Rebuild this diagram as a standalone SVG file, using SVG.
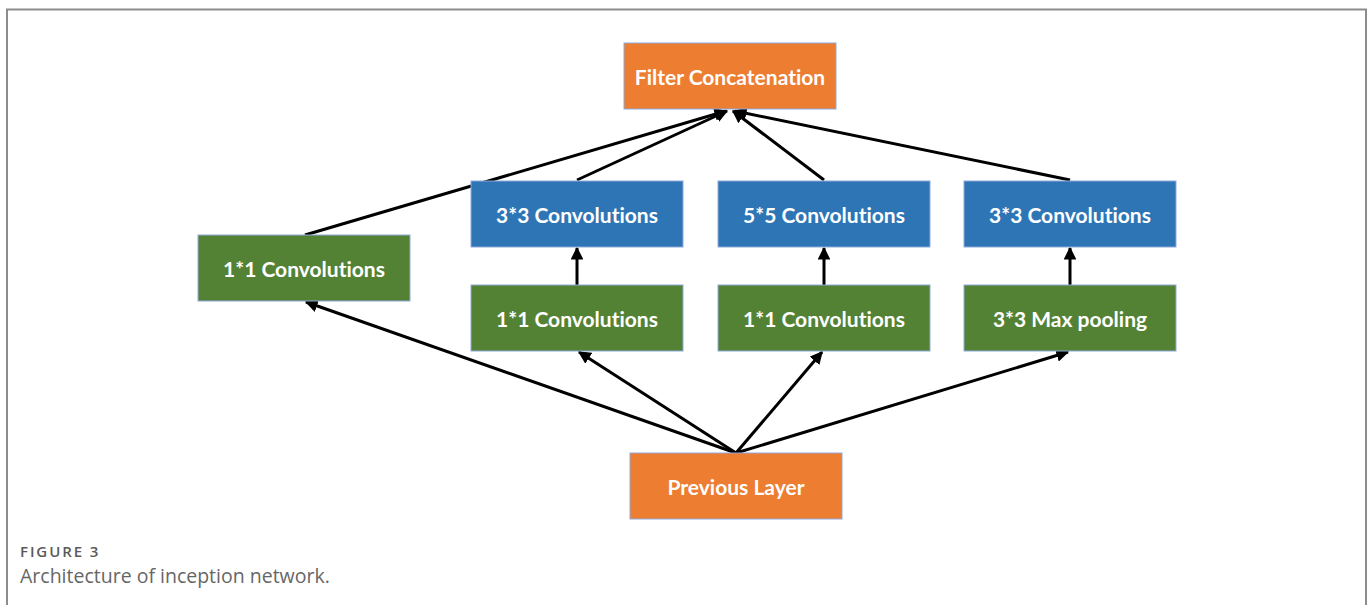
<svg xmlns="http://www.w3.org/2000/svg" width="1370" height="605" viewBox="0 0 1370 605">
<style>
.box{stroke:#8FAADC;stroke-width:1}
.or{fill:#ED7D31}
.gr{fill:#548235}
.bl{fill:#2E75B6}
.lbl{font-family:Lato,"Liberation Sans",sans-serif;font-weight:bold;font-size:21px;fill:#fff;text-anchor:middle;dominant-baseline:central;font-variant-ligatures:none}
.edge{stroke:#000;stroke-width:3;fill:none;marker-end:url(#ah)}
.frame{stroke:#8c8c8c;stroke-width:2;fill:none}
</style>
<defs>
<marker id="ah" viewBox="0 0 10 10" refX="9" refY="5" markerWidth="4.3" markerHeight="4.3" markerUnits="strokeWidth" orient="auto">
<path d="M0,0 L10,5 L0,10 z" fill="#000"/>
</marker>
</defs>
<rect width="1370" height="605" fill="#fff"/>
<path class="frame" d="M7,605 L7,9.5 L1366,9.5 L1366,605"/>
<g id="connectors">
<line class="edge" x1="736" y1="453" x2="306" y2="302"/>
<line class="edge" x1="736" y1="453" x2="579" y2="352"/>
<line class="edge" x1="736" y1="453" x2="822" y2="352"/>
<line class="edge" x1="736" y1="453" x2="1068" y2="352"/>
<line class="edge" x1="577" y1="285" x2="577" y2="248"/>
<line class="edge" x1="824" y1="285" x2="824" y2="248"/>
<line class="edge" x1="1070" y1="285" x2="1070" y2="248"/>
<line class="edge" x1="305" y1="235" x2="726" y2="111"/>
<line class="edge" x1="577" y1="180" x2="727" y2="111"/>
<line class="edge" x1="824" y1="180" x2="733" y2="111"/>
<line class="edge" x1="1070" y1="180" x2="735" y2="111"/>
</g>
<g id="filter-concat"><rect class="box or" x="624" y="43" width="212" height="66"/><text class="lbl" x="730" y="76">Filter Concatenation</text></g>
<g id="conv1x1-left"><rect class="box gr" x="198" y="235" width="212" height="66"/><text class="lbl" x="304" y="268">1*1 Convolutions</text></g>
<g id="conv3x3-a"><rect class="box bl" x="471" y="181" width="212" height="66"/><text class="lbl" x="577" y="214">3*3 Convolutions</text></g>
<g id="conv5x5"><rect class="box bl" x="718" y="181" width="212" height="66"/><text class="lbl" x="824" y="214">5*5 Convolutions</text></g>
<g id="conv3x3-b"><rect class="box bl" x="964" y="181" width="212" height="66"/><text class="lbl" x="1070" y="214">3*3 Convolutions</text></g>
<g id="conv1x1-a"><rect class="box gr" x="471" y="285" width="212" height="66"/><text class="lbl" x="577" y="318">1*1 Convolutions</text></g>
<g id="conv1x1-b"><rect class="box gr" x="718" y="285" width="212" height="66"/><text class="lbl" x="824" y="318">1*1 Convolutions</text></g>
<g id="maxpool"><rect class="box gr" x="964" y="285" width="212" height="66"/><text class="lbl" x="1070" y="318">3*3 Max pooling</text></g>
<g id="prev-layer"><rect class="box or" x="630" y="453" width="212" height="66"/><text class="lbl" x="736" y="486">Previous Layer</text></g>
<text x="20" y="557" font-family="'Open Sans',sans-serif" font-size="15" font-weight="600" fill="#5a5a5a" letter-spacing="1.9">FIGURE 3</text>
<text x="20" y="583" font-family="'Open Sans',sans-serif" font-size="19.5" fill="#666">Architecture of inception network.</text>
</svg>
